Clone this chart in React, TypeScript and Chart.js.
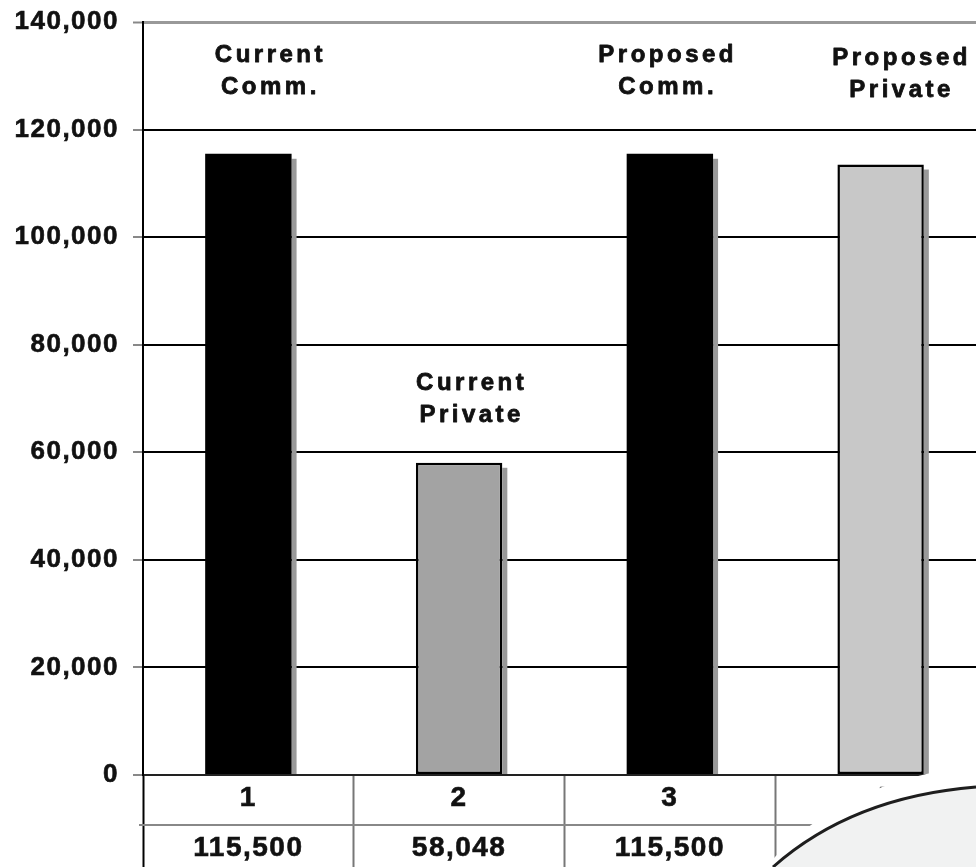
import React, { useEffect, useRef } from 'react';
import { Chart, registerables } from 'chart.js';

Chart.register(...registerables);

// ---- data ----
const categories = ['1', '2', '3', '4'];
const values = [115500, 58048, 115500, 113500];
const tableValues = ['115,500', '58,048', '115,500', '113,500'];
const barLabels = [
  ['Current', 'Comm.'],
  ['Current', 'Private'],
  ['Proposed', 'Comm.'],
  ['Proposed', 'Private'],
];
const yTickValues = [0, 20000, 40000, 60000, 80000, 100000, 120000, 140000];

// ---- styles / annotation layout ----
const barFill = ['#000000', '#a3a3a3', '#000000', '#c8c8c8'];
const barBorder = [0, 2.5, 0, 2.5];
// annotation anchors in data space (category index, value) for first text line
const labelAnchorX = [0.095, 1.05, 1.98, 3.09];
const labelAnchorY = [133850, 72880, 133770, 133220];

const FONT = '"Liberation Sans", Arial, Helvetica, sans-serif';

const shadowPlugin = {
  id: 'barShadow',
  beforeDatasetsDraw(chart: any) {
    const ctx = chart.ctx;
    const meta = chart.getDatasetMeta(0);
    ctx.save();
    ctx.fillStyle = '#999999';
    meta.data.forEach((bar: any) => {
      const p = bar.getProps(['x', 'y', 'base', 'width'], true);
      const right = p.x + p.width / 2;
      ctx.fillRect(right, p.y + 5, 5, p.base - p.y - 5);
    });
    ctx.restore();
  },
};

const spacingPlugin = {
  id: 'letterSpacing',
  beforeDraw(chart: any) {
    try {
      (chart.ctx as any).letterSpacing = '1.5px';
    } catch (e) {}
  },
};

const annotationPlugin = {
  id: 'barAnnotations',
  afterDatasetsDraw(chart: any) {
    const ctx = chart.ctx;
    const xs = chart.scales.x;
    const ys = chart.scales.y;
    ctx.save();
    try {
      (ctx as any).letterSpacing = '3.5px';
    } catch (e) {}
    ctx.font = `bold 24px ${FONT}`;
    ctx.fillStyle = '#111111';
    ctx.strokeStyle = '#111111';
    ctx.lineWidth = 0.8;
    ctx.lineJoin = 'round';
    ctx.textAlign = 'center';
    ctx.textBaseline = 'middle';
    barLabels.forEach((lines, i) => {
      const x = xs.getPixelForValue(labelAnchorX[i]) + 2;
      const y0 = ys.getPixelForValue(labelAnchorY[i]);
      lines.forEach((t, j) => {
        ctx.strokeText(t, x, y0 + j * 32);
        ctx.fillText(t, x, y0 + j * 32);
      });
    });
    ctx.restore();
  },
};

const tablePlugin = {
  id: 'tableAndCurl',
  afterDraw(chart: any) {
    const ctx = chart.ctx;
    const area = chart.chartArea;
    ctx.save();
    // row separator of the data table
    ctx.strokeStyle = '#888888';
    ctx.lineWidth = 2;
    ctx.beginPath();
    ctx.moveTo(area.left - 4, area.bottom + 50);
    ctx.lineTo(area.right, area.bottom + 50);
    ctx.stroke();

    // page curl decoration in the lower right corner
    const W = 976;
    const H = chart.height;
    ctx.fillStyle = '#ffffff';
    ctx.beginPath();
    ctx.moveTo(766, H);
    ctx.quadraticCurveTo(840, H - 87, W, H - 101);
    ctx.lineTo(W + 20, H - 101);
    ctx.lineTo(W + 20, H);
    ctx.closePath();
    ctx.fill();

    ctx.fillStyle = '#f1f2f2';
    ctx.beginPath();
    ctx.moveTo(773, H);
    ctx.quadraticCurveTo(852, H - 70, W, H - 80);
    ctx.lineTo(W + 20, H - 80);
    ctx.lineTo(W + 20, H);
    ctx.closePath();
    ctx.fill();

    ctx.strokeStyle = '#1e1e1e';
    ctx.lineWidth = 3;
    ctx.beginPath();
    ctx.moveTo(773, H);
    ctx.quadraticCurveTo(852, H - 70, W, H - 80);
    ctx.stroke();
    ctx.restore();
  },
};

export default function App() {
  const ref = useRef<HTMLCanvasElement | null>(null);

  useEffect(() => {
    if (!ref.current) return;
    const chart = new Chart(ref.current, {
      type: 'bar',
      data: {
        labels: categories.map((c, i) => [c, tableValues[i]]),
        datasets: [
          {
            data: values,
            backgroundColor: barFill,
            borderColor: '#000000',
            borderWidth: barBorder,
            borderSkipped: false,
            barPercentage: 0.41,
            categoryPercentage: 1,
          },
        ],
      },
      options: {
        responsive: false,
        animation: false,
        layout: { padding: { top: 22, left: 0, right: 0, bottom: 0 } },
        plugins: {
          legend: { display: false },
          tooltip: { enabled: false },
          title: { display: false },
        },
        scales: {
          x: {
            offset: true,
            border: { display: true, color: '#222222', width: 2 },
            grid: {
              offset: true,
              drawOnChartArea: false,
              drawTicks: true,
              tickLength: 92,
              tickColor: (c: any) => (c.index === 0 ? '#000000' : '#777777'),
              tickWidth: 2,
            },
            ticks: {
              color: '#111111',
              textStrokeColor: '#111111',
              textStrokeWidth: 0.6,
              font: { family: FONT, size: 28, weight: 'bold', lineHeight: 50 / 28 },
              padding: -93.5,
              maxRotation: 0,
              autoSkip: false,
            },
            afterFit: (s: any) => {
              s.height = 92;
            },
          },
          y: {
            min: 0,
            max: 140000,
            border: { display: true, color: '#000000', width: 2 },
            grid: {
              color: (c: any) =>
                c.tick && c.tick.value === 140000 ? '#999999' : c.tick && c.tick.value === 0 ? '#333333' : '#000000',
              lineWidth: (c: any) => (c.tick && c.tick.value === 140000 ? 3 : 2),
              tickColor: '#888888',
              tickWidth: 2,
              tickLength: 10,
            },
            ticks: {
              color: '#111111',
              textStrokeColor: '#111111',
              textStrokeWidth: 0.6,
              font: { family: FONT, size: 26, weight: 'bold', lineHeight: 0.5 },
              padding: 14,
              callback: (v: any) => Number(v).toLocaleString('en-US'),
            },
            afterBuildTicks: (s: any) => {
              s.ticks = yTickValues.map((v) => ({ value: v }));
            },
            afterFit: (s: any) => {
              s.width = 143;
            },
          },
        },
      },
      plugins: [spacingPlugin, shadowPlugin, annotationPlugin, tablePlugin],
    } as any);
    return () => chart.destroy();
  }, []);

  return (
    <div
      style={{
        position: 'fixed',
        left: 0,
        top: 0,
        width: 976,
        height: 867,
        overflow: 'hidden',
        background: '#ffffff',
      }}
    >
      <canvas ref={ref} width={986} height={867} style={{ display: 'block', width: 986, height: 867 }} />
    </div>
  );
}
